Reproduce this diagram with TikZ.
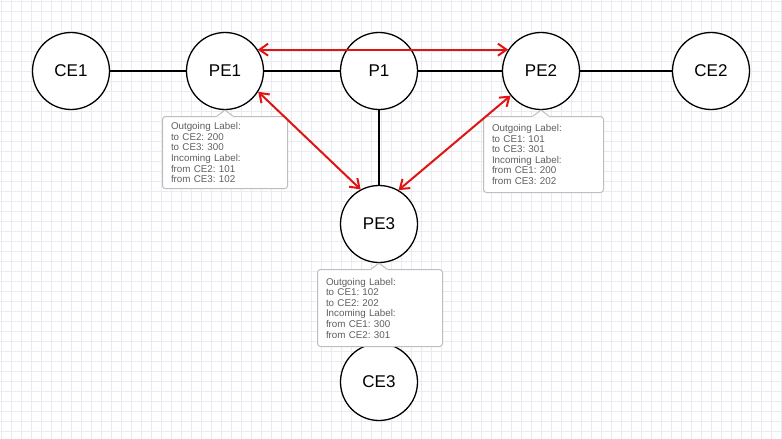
\documentclass[tikz,border=0pt]{standalone}
\usepackage{fontspec}
\setmainfont{Liberation Sans}
\usetikzlibrary{arrows.meta,calc}
\definecolor{gridgray}{RGB}{234,234,242}
\definecolor{lspred}{RGB}{225,20,20}
\definecolor{notegray}{RGB}{190,190,190}
\definecolor{notetext}{RGB}{95,95,95}
\frenchspacing

\begin{document}
\begin{tikzpicture}[x=1pt,y=-1pt,
    router/.style={draw,circle,line width=1.3pt,fill=white,minimum size=77pt,inner sep=0pt,font=\fontsize{17}{20}\selectfont},
    link/.style={line width=1.3pt},
    lsp/.style={draw=lspred,line width=2pt,arrows={Straight Barb[length=8.5pt,width=12pt]-Straight Barb[length=8.5pt,width=12pt]}},
    note/.style={draw=notegray,fill=white,rounded corners=3pt,line width=1pt,anchor=north west,align=left,text=notetext,
      inner xsep=8.5pt,inner ysep=6pt,text width=108pt,font=\fontsize{9.8}{10.6}\selectfont}]
    % canvas and grid
    \fill[white] (0,0) rectangle (782,439);
    \useasboundingbox (0,0) rectangle (782,439);
    \foreach \gx in {1.5,11.5,...,781.5} \draw[gridgray,line width=0.7pt] (\gx,0) -- (\gx,439);
    \foreach \gy in {1.5,11.5,...,431.5} \draw[gridgray,line width=0.7pt] (0,\gy) -- (782,\gy);

    % routers
    \node[router] (CE1) at (71,71) {CE1};
    \node[router] (PE1) at (225,71) {PE1};
    \node[router] (P1) at (379,71) {P1};
    \node[router] (PE2) at (541,71) {PE2};
    \node[router] (CE2) at (711,71) {CE2};
    \node[router] (PE3) at (379,224) {PE3};
    \node[router] (CE3) at (379,382) {CE3};

    % label tables
    \node[note,minimum height=71pt] (note1) at (162,116) {Outgoing Label:\\to CE2: 200\\to CE3: 300\\Incoming Label:\\from CE2: 101\\from CE3: 102};
    \node[note,text width=103pt,minimum height=76pt] (note2) at (483,116) {Outgoing Label:\\to CE1: 101\\to CE3: 301\\Incoming Label:\\from CE1: 200\\from CE3: 202};
    \node[note,minimum height=77pt] (note3) at (317,269) {Outgoing Label:\\to CE1: 102\\to CE2: 202\\Incoming Label:\\from CE1: 300\\from CE2: 301};
    \foreach \r in {PE1,PE2,PE3} {
      \fill[white] ($(\r.south)+(-9,7.2)$) -- (\r.south) -- ($(\r.south)+(9,7.2)$) -- cycle;
      \draw[notegray,line width=1pt] ($(\r.south)+(-8,6)$) -- (\r.south) -- ($(\r.south)+(8,6)$);
    }

    % links
    \draw[link] (CE1) -- (PE1) (PE1) -- (P1) (P1) -- (PE2) (PE2) -- (CE2) (P1) -- (PE3);

    % LSPs
    \draw[lsp] (PE1.33) -- (PE2.147);
    \draw[lsp] (PE1.-32) -- (PE3.118);
    \draw[lsp] (PE2.-141) -- (PE3.60);
  \end{tikzpicture}
\end{document}
